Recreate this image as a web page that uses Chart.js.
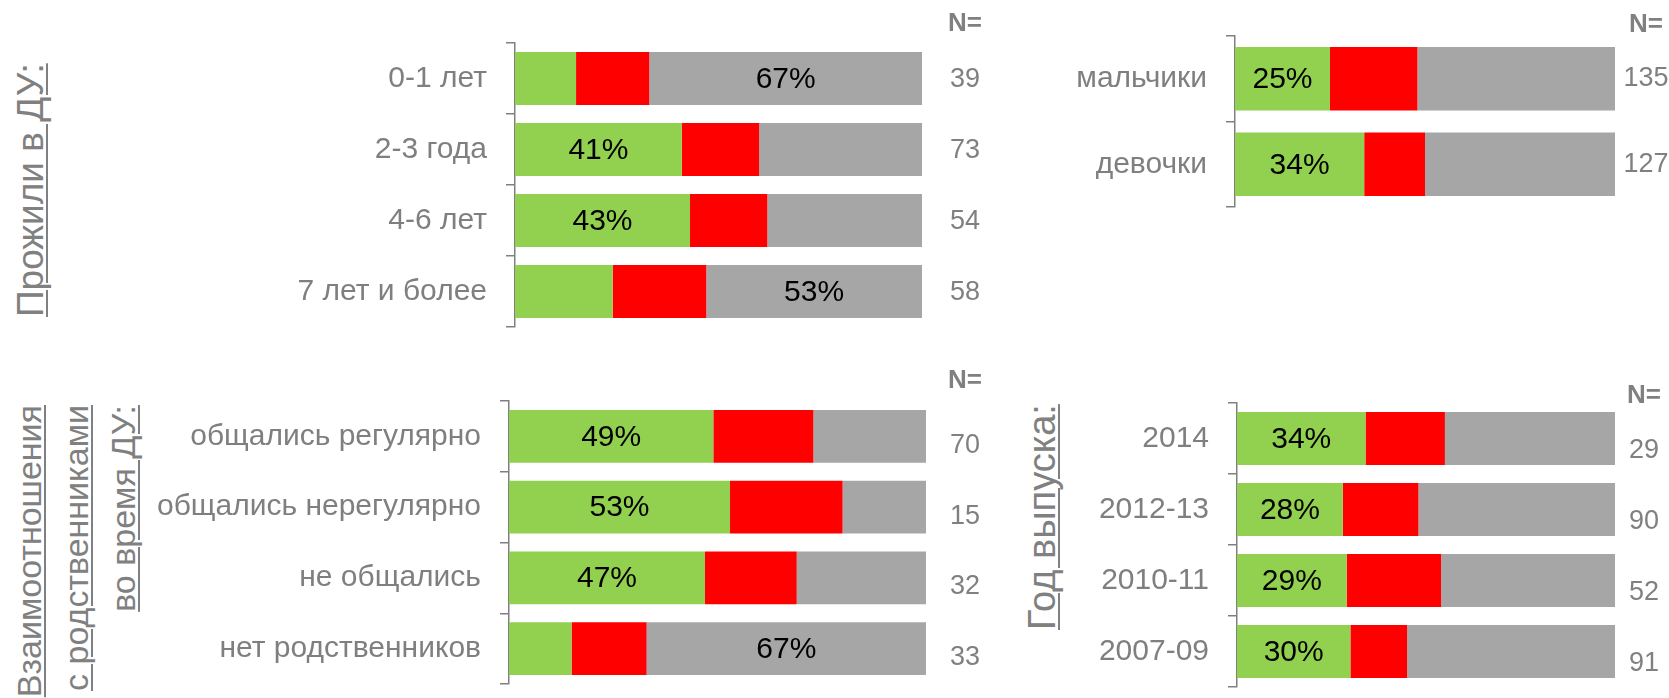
<!DOCTYPE html>
<html lang="ru">
<head>
<meta charset="utf-8">
<title>Прожили в ДУ</title>
<script src="https://cdn.jsdelivr.net/npm/chart.js@4.4.1/dist/chart.umd.min.js"></script>
<style>
  html, body { margin: 0; padding: 0; background: #fff; width: 1669px; height: 698px; overflow: hidden; }
  canvas { position: absolute; }
  .vtitle {
    position: absolute; left: 0; top: 0;
    transform-origin: 0 0;
    white-space: nowrap;
    color: #808080;
    font-family: "Liberation Sans", Arial, sans-serif;
    text-decoration: underline;
    text-decoration-thickness: 1.5px;
    text-underline-offset: 3px;
  }
</style>
</head>
<body>
<div class="vtitle" style="font-size:37px; line-height:37px; transform: translate(12px, 317px) rotate(-90deg);">Прожили в ДУ:</div>
<div class="vtitle" style="font-size:34px; line-height:47px; width:315px; text-align:right; transform: translate(6px, 720px) rotate(-90deg);">Взаимоотношения<br>с родственниками<br>во время ДУ:</div>
<div class="vtitle" style="font-size:38px; line-height:38px; transform: translate(1023px, 630px) rotate(-90deg);">Год выпуска:</div>

<canvas id="chartStay" width="1000" height="349" style="left:0; top:0;"></canvas>
<canvas id="chartGender" width="669" height="349" style="left:1000px; top:0;"></canvas>
<canvas id="chartRelatives" width="1000" height="349" style="left:0; top:349px;"></canvas>
<canvas id="chartYear" width="669" height="349" style="left:1000px; top:349px;"></canvas>

<script>
// Прожили в ДУ
const stayCategories = ['0-1 лет', '2-3 года', '4-6 лет', '7 лет и более'];
const stayGreen = [15, 41, 43, 24];
const stayRed = [18, 19, 19, 23];
const stayGray = [67, 40, 38, 53];
const stayLabelled = ['gray', 'green', 'green', 'gray'];
const stayN = [39, 73, 54, 58];

// пол
const genderCategories = ['мальчики', 'девочки'];
const genderGreen = [25, 34];
const genderRed = [23, 16];
const genderGray = [52, 50];
const genderLabelled = ['green', 'green'];
const genderN = [135, 127];

// Взаимоотношения с родственниками
const relativesCategories = ['общались регулярно', 'общались нерегулярно', 'не общались', 'нет родственников'];
const relativesGreen = [49, 53, 47, 15];
const relativesRed = [24, 27, 22, 18];
const relativesGray = [27, 20, 31, 67];
const relativesLabelled = ['green', 'green', 'green', 'gray'];
const relativesN = [70, 15, 32, 33];

// Год выпуска
const yearCategories = ['2014', '2012-13', '2010-11', '2007-09'];
const yearGreen = [34, 28, 29, 30];
const yearRed = [21, 20, 25, 15];
const yearGray = [45, 52, 46, 55];
const yearLabelled = ['green', 'green', 'green', 'green'];
const yearN = [29, 90, 52, 91];

const FONT = '"Liberation Sans", Arial, sans-serif';
const GREEN = '#92D050';
const RED = '#FF0000';
const GRAY = '#A6A6A6';
const AXIS = '#808080';

function makePanel(id, cats, green, red, gray, labelled, n, p) {
    const labelsPlugin = {
        id: 'labels_' + id,
        afterDatasetsDraw(chart) {
            const ctx = chart.ctx;
            ctx.save();
            ctx.font = '30px ' + FONT;
            ctx.fillStyle = '#000';
            ctx.textAlign = 'center';
            ctx.textBaseline = 'middle';
            chart.data.datasets.forEach((ds, d) => {
                chart.getDatasetMeta(d).data.forEach((bar, i) => {
                    if (labelled[i] !== ds.key) return;
                    const b = bar.getProps(['x', 'y', 'base'], true);
                    ctx.fillText(ds.data[i] + '%', (b.x + b.base) / 2, b.y + 1);
                });
            });
            ctx.restore();
        },
        afterDraw(chart) {
            // колонка N=
            const { ctx, chartArea, scales } = chart;
            const x = chartArea.right + p.nDx;
            ctx.save();
            ctx.fillStyle = AXIS;
            ctx.textAlign = 'center';
            ctx.textBaseline = 'middle';
            ctx.font = 'bold 26px ' + FONT;
            ctx.fillText('N=', x, chartArea.top + p.headDy);
            ctx.font = '27px ' + FONT;
            n.forEach((v, i) => {
                ctx.fillText(String(v), x, scales.y.getPixelForValue(i) + p.nDy);
            });
            ctx.restore();
        }
    };

    new Chart(document.getElementById(id), {
        type: 'bar',
        data: {
            labels: cats,
            datasets: [
                { key: 'green', data: green, backgroundColor: GREEN },
                { key: 'red', data: red, backgroundColor: RED },
                { key: 'gray', data: gray, backgroundColor: GRAY }
            ]
        },
        options: {
            indexAxis: 'y',
            responsive: false,
            animation: false,
            barPercentage: 0.745,
            categoryPercentage: 1,
            layout: { padding: { left: 0, top: p.top, right: p.right, bottom: p.bottom } },
            plugins: {
                legend: { display: false },
                tooltip: { enabled: false }
            },
            scales: {
                x: { stacked: true, min: 0, max: 100, display: false },
                y: {
                    stacked: true,
                    offset: true,
                    border: { display: true, color: AXIS, width: 1.5 },
                    grid: { offset: true, drawOnChartArea: false, drawTicks: true, tickLength: 9, color: AXIS, lineWidth: 1.5 },
                    ticks: { color: '#7f7f7f', font: { family: FONT, size: 30 }, padding: 19 },
                    afterFit(scale) {
                        // фиксированная ширина оси, без лишних отступов от подписей
                        scale.width = p.axisX;
                        scale.paddingTop = 0;
                        scale.paddingBottom = 0;
                    }
                }
            }
        },
        plugins: [labelsPlugin]
    });
}

makePanel('chartStay', stayCategories, stayGreen, stayRed, stayGray, stayLabelled, stayN,
    { axisX: 515, top: 43, right: 78, bottom: 22, nDx: 43, headDy: -19, nDy: 1 });
makePanel('chartGender', genderCategories, genderGreen, genderRed, genderGray, genderLabelled, genderN,
    { axisX: 235, top: 36, right: 54, bottom: 142, nDx: 31, headDy: -11, nDy: 0 });
makePanel('chartRelatives', relativesCategories, relativesGreen, relativesRed, relativesGray, relativesLabelled, relativesN,
    { axisX: 509, top: 52, right: 74, bottom: 14, nDx: 39, headDy: -20, nDy: 9 });
makePanel('chartYear', yearCategories, yearGreen, yearRed, yearGray, yearLabelled, yearN,
    { axisX: 237, top: 54, right: 54, bottom: 11, nDx: 29, headDy: -7, nDy: 12 });
</script>
</body>
</html>
